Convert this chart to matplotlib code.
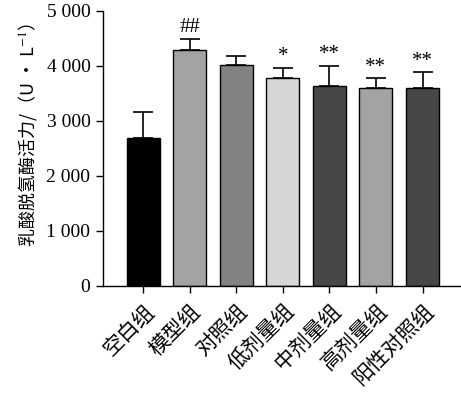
import numpy as np
import matplotlib
matplotlib.use("Agg")
import matplotlib.pyplot as plt
import matplotlib.transforms as mtransforms
from matplotlib.ticker import FuncFormatter

groups = ["空白组", "模型组", "对照组", "低剂量组", "中剂量组", "高剂量组", "阳性对照组"]
means = [2690, 4290, 4020, 3780, 3635, 3605, 3600]
errs = [480, 200, 170, 190, 365, 170, 285]
marks = ["", "##", "", "*", "**", "**", "**"]
colors = ["#000000", "#a3a3a3", "#828282", "#d6d6d6", "#474747", "#a3a3a3", "#474747"]

plt.rcParams["font.family"] = ["Liberation Serif", "Noto Sans CJK SC"]
plt.rcParams["axes.linewidth"] = 1.0
plt.rcParams["mathtext.fontset"] = "stix"

fig = plt.figure(figsize=(4.61, 3.97), dpi=100)
ax = fig.add_axes([0.2234, 0.2796, 0.776, 0.6927])

x = np.arange(len(groups))
ax.bar(x, means, width=0.71, color=colors, edgecolor="black", linewidth=1.0, zorder=2)
ax.errorbar(x, means, yerr=[np.zeros(len(errs)), errs], fmt="none",
            ecolor="black", elinewidth=1.2, capsize=7, capthick=1.2, zorder=1)

for xi, m, e, s in zip(x, means, errs, marks):
    if s:
        ax.text(xi, m + e + 30, s, ha="center", va="bottom", fontsize=15,
                family=["Liberation Serif"])

ax.set_xlim(-0.86, 6.82)
ax.set_ylim(0, 5000)
ax.set_yticks(np.arange(0, 5001, 1000))
ax.yaxis.set_major_formatter(FuncFormatter(lambda v, p: f"{int(v):,}".replace(",", " ")))
ax.set_xticks(x)
ax.set_xticklabels(groups, rotation=45, ha="right", va="top", rotation_mode="anchor",
                   family=["Noto Sans CJK SC"], fontsize=15)
shift = mtransforms.ScaledTranslation(4 / 100, 0, fig.dpi_scale_trans)
for lab in ax.get_xticklabels():
    lab.set_transform(lab.get_transform() + shift)
ax.tick_params(axis="y", labelsize=14, length=5, width=1, direction="out", pad=4)
ax.tick_params(axis="x", length=5, width=1, direction="out", pad=5)
ax.spines["top"].set_visible(False)
ax.spines["right"].set_visible(False)

ax.set_ylabel("乳酸脱氢酶活力/（U • L$^{-1}$）", fontsize=13,
              family=["Noto Sans CJK SC", "DejaVu Sans"])
ax.yaxis.set_label_coords(-0.18, 0.55)

fig.savefig("out.png", dpi=100)
